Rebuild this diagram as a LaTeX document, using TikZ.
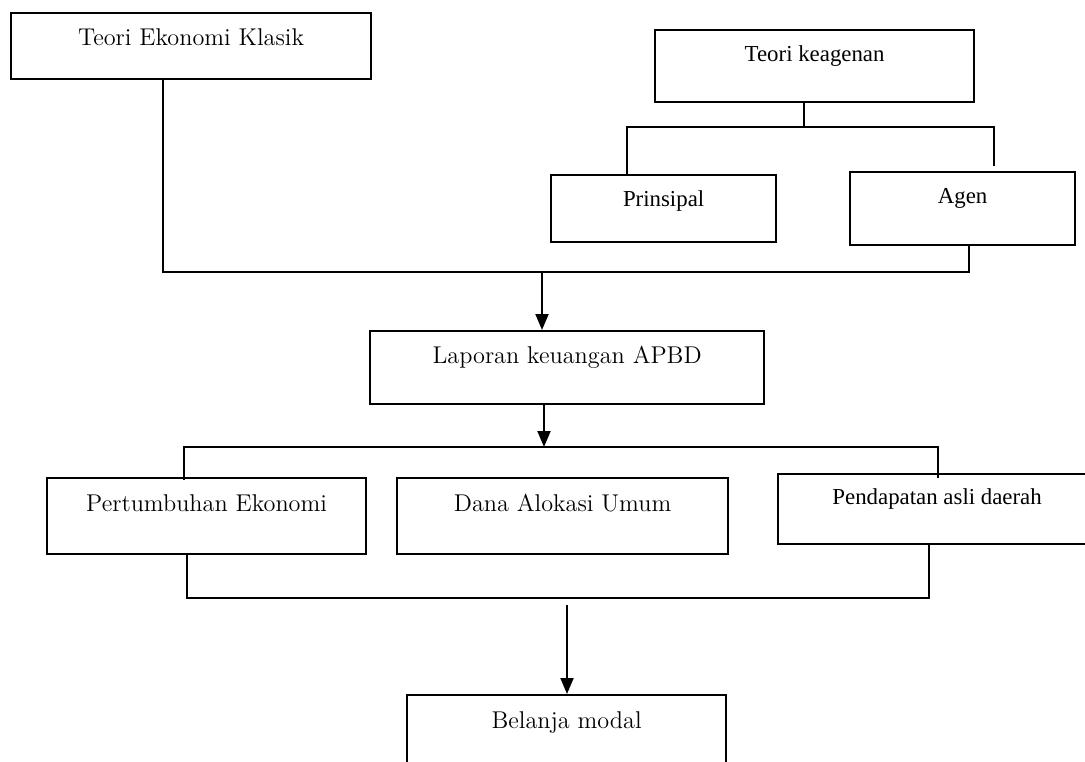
\documentclass[tikz,border=0pt]{standalone}
\usepackage{fontspec}
\usetikzlibrary{arrows.meta}
\newfontfamily\timesfont{Liberation Serif}
\tikzstyle{every path}=[line width=1.1pt]
\tikzstyle{kotak}=[draw, line width=1.3pt, anchor=north west, inner xsep=0pt, inner ysep=0pt]
\tikzstyle{pala}=[font=\fontsize{13.8}{16}\selectfont]
\tikzstyle{tms}=[font=\timesfont\fontsize{13}{15}\selectfont]
\tikzstyle{tipis}=[line width=0.8pt]
\tikzstyle{panah}=[-{Triangle[length=0.32cm,width=0.26cm]}]

\begin{document}
\begin{tikzpicture}[x=0.02cm, y=-0.02cm]
            \useasboundingbox (0,0) rectangle (1085,761);

            \node[kotak, pala, minimum width=7.2cm, text height=0.64cm, text depth=0.68cm]
                (klasik) at (10,12) {Teori Ekonomi Klasik};
            \node[kotak, tms, minimum width=6.38cm, text height=0.62cm, text depth=0.82cm]
                (keagenan) at (654,29) {Teori keagenan};
            \node[kotak, tms, minimum width=4.5cm, text height=0.62cm, text depth=0.72cm]
                (prinsipal) at (550,174) {Prinsipal};
            \node[kotak, tms, minimum width=4.5cm, text height=0.62cm, text depth=0.84cm]
                (agen) at (849,171) {Agen};
            \node[kotak, pala, minimum width=7.88cm, text height=0.64cm, text depth=0.82cm]
                (laporan) at (369,330) {Laporan keuangan APBD};
            \node[kotak, pala, minimum width=6.38cm, text height=0.66cm, text depth=0.86cm]
                (tumbuh) at (46,477) {Pertumbuhan Ekonomi};
            \node[kotak, pala, minimum width=6.62cm, text height=0.66cm, text depth=0.86cm]
                (dau) at (396,477) {Dana Alokasi Umum};
            \node[kotak, tms, minimum width=6.36cm, text height=0.60cm, text depth=0.80cm]
                (pad) at (777,473) {Pendapatan asli daerah};
            \node[kotak, pala, minimum width=6.38cm, text height=0.66cm, text depth=0.94cm]
                (belanja) at (406,694) {Belanja modal};

            \coordinate (k1) at (163,272);
            \coordinate (a1) at (969,272);
            \coordinate (j1) at (542,272);
            \draw (klasik.south -| k1) -- (k1) -- (a1) -- (agen.south -| a1);
            \draw[panah] (j1) -- (j1 |- laporan.north);

            \coordinate (t1) at (804,127);
            \coordinate (t2) at (627,127);
            \coordinate (t3) at (994,127);
            \draw[tipis] (keagenan.south -| t1) -- (t1);
            \draw[tipis] (t2 |- prinsipal.north) -- (t2) -- (t3) -- (994,166);

            \coordinate (j2) at (544,447);
            \coordinate (p1) at (184,447);
            \coordinate (p2) at (938,447);
            \draw[panah] (laporan.south -| j2) -- (j2);
            \draw (184,480) -- (p1) -- (p2) -- (938,478);

            \coordinate (b1) at (187,598);
            \coordinate (b2) at (929,598);
            \coordinate (j3) at (567,605);
            \draw (tumbuh.south -| b1) -- (b1) -- (b2) -- (pad.south -| b2);
            \draw[panah] (j3) -- (j3 |- belanja.north);
        \end{tikzpicture}
\end{document}
